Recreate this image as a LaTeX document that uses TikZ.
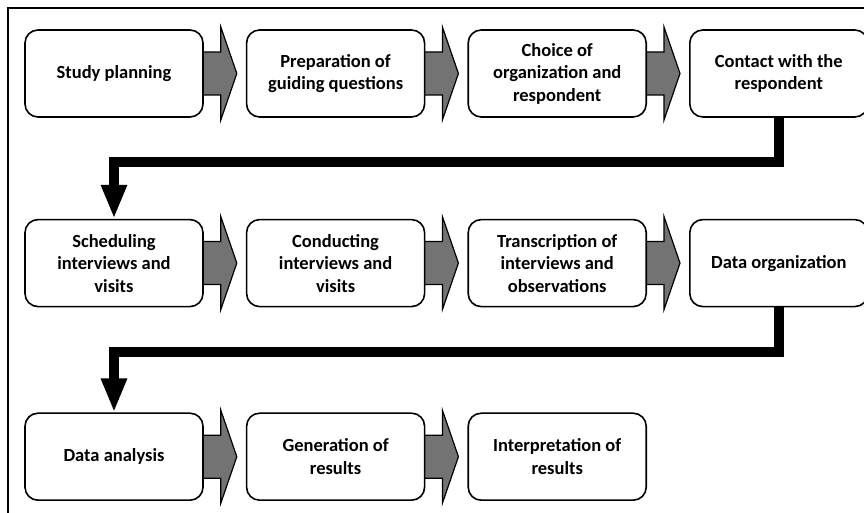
\documentclass[tikz,border=0pt]{standalone}
\usepackage{fontspec}
\setmainfont{Carlito}
\usetikzlibrary{arrows.meta,calc,positioning}
\pgfdeclarelayer{background}
\pgfsetlayers{background,main}

\newcommand{\grayarrow}[2]{%
  \begin{pgfonlayer}{background}
    \draw[blockarrow] ($(#1.east)+(-6,21.5)$) -- ($(#1.east)+(17,21.5)$)
      -- ($(#1.east)+(17,46.5)$) -- ($(#2.west)+(-9,0)$)
      -- ($(#1.east)+(17,-46.5)$) -- ($(#1.east)+(17,-21.5)$)
      -- ($(#1.east)+(-6,-21.5)$) -- cycle;
  \end{pgfonlayer}}

\begin{document}
\begin{tikzpicture}[x=1pt,y=1pt,
    node distance=101pt and 42pt,
    stepbox/.style={draw,line width=1.6pt,rounded corners=13pt,fill=white,
      minimum width=178pt,minimum height=87pt,align=center,
      font=\bfseries\fontsize{18.5}{22.5}\selectfont},
    blockarrow/.style={draw,line width=1.2pt,fill=gray!90!black,line join=miter},
    flow/.style={line width=10pt,-{Triangle[width=24pt,length=34pt]}}]
  \useasboundingbox (0,0) rectangle (864,513);
  % frame
  \draw[line width=1.6pt] (8,-5) -- (8,505) -- (870,505);
  % first row
  \node[stepbox] (b1) at (114,439.5) {Study planning};
  \node[stepbox,right=of b1] (b2) {Preparation of\\guiding questions};
  \node[stepbox,right=of b2] (b3) {Choice of\\organization and\\respondent};
  \node[stepbox,right=of b3] (b4) {Contact with the\\respondent};
  % second row
  \node[stepbox,below=of b1] (b5) {Scheduling\\interviews and\\visits};
  \node[stepbox,right=of b5] (b6) {Conducting\\interviews and\\visits};
  \node[stepbox,right=of b6] (b7) {Transcription of\\interviews and\\observations};
  \node[stepbox,right=of b7] (b8) {Data organization};
  % third row
  \node[stepbox,below=105pt of b5] (b9) {Data analysis};
  \node[stepbox,right=of b9] (b10) {Generation of\\results};
  \node[stepbox,right=of b10] (b11) {Interpretation of\\results};
  % gray arrows
  \foreach \a/\b in {b1/b2,b2/b3,b3/b4,b5/b6,b6/b7,b7/b8,b9/b10,b10/b11}
    \grayarrow{\a}{\b};
  % row changes
  \draw[flow] (b4.south) -- ++(0,-44) -| (b5.north);
  \draw[flow] (b8.south) -- ++(0,-45) -| (b9.north);
\end{tikzpicture}
\end{document}
